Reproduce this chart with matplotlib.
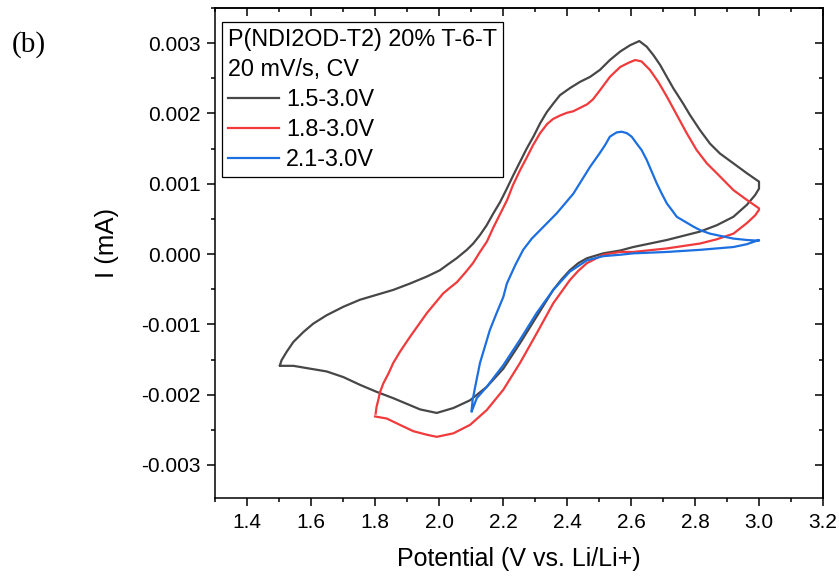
import numpy as np
import matplotlib
matplotlib.use('Agg')
import matplotlib.pyplot as plt
from matplotlib.ticker import MultipleLocator, FuncFormatter

plt.rcParams['font.family'] = 'Liberation Sans'
plt.rcParams['axes.unicode_minus'] = False

# CV loops, potential (V) and current (mA); each starts at the low vertex,
# runs up to 3.0 V and comes back
v_15 = [1.503, 1.545, 1.597, 1.649, 1.701, 1.753, 1.805, 1.857, 1.899, 1.941,
        1.993, 2.045, 2.097, 2.149, 2.201, 2.253, 2.305, 2.357, 2.383, 2.409,
        2.435, 2.462, 2.513, 2.566, 2.607, 2.712, 2.816, 2.868, 2.920, 2.962,
        2.988, 3.000,
        3.000, 2.962, 2.920, 2.878, 2.847, 2.816, 2.784, 2.763, 2.732, 2.712,
        2.691, 2.670, 2.649, 2.626, 2.597, 2.566, 2.534, 2.503, 2.472, 2.441,
        2.409, 2.378, 2.357, 2.337, 2.316, 2.295, 2.274, 2.253, 2.232, 2.212,
        2.191, 2.170, 2.149, 2.128, 2.107, 2.087, 2.055, 2.024, 2.003, 1.962,
        1.909, 1.857, 1.805, 1.753, 1.701, 1.649, 1.607, 1.576, 1.545, 1.524,
        1.508, 1.503]
i_15 = [-0.00159, -0.00159, -0.00163, -0.00167, -0.00175, -0.00186, -0.00196,
        -0.00205, -0.00213, -0.00221, -0.00226, -0.00219, -0.00208, -0.00189,
        -0.00163, -0.00127, -0.00089, -0.00051, -0.00036, -0.00023, -0.00013,
        -0.00006, 0.00001, 0.00005, 0.00010, 0.00020, 0.00032, 0.00041,
        0.00053, 0.00070, 0.00084, 0.00093,
        0.00103, 0.00115, 0.00129, 0.00143, 0.00157, 0.00176, 0.00198, 0.00214,
        0.00236, 0.00252, 0.00269, 0.00283, 0.00295, 0.00303, 0.00297, 0.00288,
        0.00276, 0.00262, 0.00252, 0.00245, 0.00236, 0.00226, 0.00214, 0.00202,
        0.00186, 0.00167, 0.00150, 0.00131, 0.00112, 0.00093, 0.00074, 0.00058,
        0.00041, 0.00027, 0.00015, 0.00006, -0.00006, -0.00016, -0.00023,
        -0.00032, -0.00042, -0.00051, -0.00058, -0.00065, -0.00075, -0.00087,
        -0.00099, -0.00111, -0.00125, -0.00139, -0.00151, -0.00158]

v_18 = [1.800, 1.837, 1.878, 1.920, 1.962, 1.993, 2.045, 2.097, 2.149, 2.201,
        2.253, 2.305, 2.357, 2.409, 2.435, 2.462, 2.513, 2.566, 2.607, 2.712,
        2.816, 2.868, 2.920, 2.962, 2.988, 3.000,
        3.000, 2.962, 2.920, 2.868, 2.837, 2.805, 2.774, 2.743, 2.712, 2.685,
        2.659, 2.633, 2.613, 2.592, 2.566, 2.534, 2.503, 2.481, 2.463, 2.441,
        2.419, 2.400, 2.378, 2.356, 2.338, 2.316, 2.294, 2.275, 2.253, 2.231,
        2.213, 2.191, 2.169, 2.150, 2.128, 2.106, 2.081, 2.056, 2.034, 2.013,
        1.962, 1.909, 1.878, 1.857, 1.842, 1.826, 1.816, 1.810, 1.805, 1.802]
i_18 = [-0.00231, -0.00234, -0.00243, -0.00252, -0.00257, -0.00260, -0.00255,
        -0.00243, -0.00222, -0.00193, -0.00155, -0.00113, -0.00070, -0.00037,
        -0.00024, -0.00013, -0.00001, 0.00003, 0.00003, 0.00008, 0.00015,
        0.00021, 0.00029, 0.00044, 0.00055, 0.00063,
        0.00065, 0.00077, 0.00091, 0.00115, 0.00129, 0.00148, 0.00172, 0.00198,
        0.00224, 0.00245, 0.00262, 0.00274, 0.00276, 0.00272, 0.00266, 0.00252,
        0.00233, 0.00220, 0.00213, 0.00208, 0.00203, 0.00201, 0.00197, 0.00192,
        0.00185, 0.00172, 0.00155, 0.00138, 0.00119, 0.00098, 0.00077, 0.00057,
        0.00037, 0.00018, 0.00003, -0.00013, -0.00027, -0.00040, -0.00048,
        -0.00056, -0.00084, -0.00118, -0.00139, -0.00155, -0.00170, -0.00184,
        -0.00196, -0.00208, -0.00217, -0.00227]

v_21 = [2.102, 2.118, 2.149, 2.201, 2.253, 2.305, 2.357, 2.409, 2.462, 2.513,
        2.566, 2.607, 2.712, 2.816, 2.920, 2.962, 3.000,
        3.000, 2.962, 2.920, 2.878, 2.847, 2.816, 2.795, 2.769, 2.743, 2.727,
        2.712, 2.696, 2.680, 2.665, 2.649, 2.633, 2.618, 2.602, 2.587, 2.571,
        2.555, 2.534, 2.519, 2.503, 2.472, 2.446, 2.420, 2.394, 2.368, 2.342,
        2.316, 2.290, 2.263, 2.238, 2.212, 2.201, 2.180, 2.159, 2.128, 2.113,
        2.105, 2.102]
i_21 = [-0.00224, -0.00205, -0.00189, -0.00158, -0.00122, -0.00084, -0.00051,
        -0.00025, -0.00009, -0.00003, -0.00001, 0.00001, 0.00003, 0.00006,
        0.00010, 0.00014, 0.00020,
        0.00019, 0.00020, 0.00022, 0.00026, 0.00029, 0.00034, 0.00039, 0.00046,
        0.00053, 0.00063, 0.00072, 0.00086, 0.00101, 0.00117, 0.00134, 0.00148,
        0.00157, 0.00167, 0.00172, 0.00174, 0.00173, 0.00167, 0.00155, 0.00144,
        0.00124, 0.00105, 0.00086, 0.00072, 0.00058, 0.00046, 0.00034, 0.00022,
        0.00006, -0.00016, -0.00042, -0.00061, -0.00084, -0.00108, -0.00155,
        -0.00189, -0.00208, -0.00222]

labels = ['1.5-3.0V', '1.8-3.0V', '2.1-3.0V']
colors = ['#474747', '#f03a3c', '#1c6fe0']

fig = plt.figure(figsize=(8.39, 5.81), dpi=100)
ax = fig.add_axes([215 / 839, 1 - 498 / 581, 608 / 839, 490 / 581])

for v, i, lab, c in zip([v_15, v_18, v_21], [i_15, i_18, i_21], labels, colors):
    ax.plot(v, i, color=c, lw=1.6, label=lab, solid_joinstyle='round')

ax.set_xlim(1.3, 3.2)
ax.set_ylim(-0.00347, 0.0035)
ax.xaxis.set_major_locator(MultipleLocator(0.2))
ax.xaxis.set_minor_locator(MultipleLocator(0.1))
ax.yaxis.set_major_locator(MultipleLocator(0.001))
ax.yaxis.set_minor_locator(MultipleLocator(0.0005))
ax.xaxis.set_major_formatter(FuncFormatter(lambda v, p: f'{round(v, 1) + 0:.1f}'))
ax.yaxis.set_major_formatter(FuncFormatter(lambda v, p: f'{round(v, 3) + 0:.3f}'))
ax.tick_params(which='major', direction='out', length=5.5, width=1.1, labelsize=15, pad=5)
ax.tick_params(which='minor', direction='out', length=3, width=1.1)
for s in ax.spines.values():
    s.set_linewidth(1.1)

# inward ticks on the top and right edges
top = ax.secondary_xaxis('top')
top.xaxis.set_major_locator(MultipleLocator(0.2))
top.xaxis.set_minor_locator(MultipleLocator(0.1))
top.tick_params(which='both', direction='in', labeltop=False, width=1.1)
top.tick_params(which='major', length=5.5)
top.tick_params(which='minor', length=3)
right = ax.secondary_yaxis('right')
right.yaxis.set_major_locator(MultipleLocator(0.001))
right.yaxis.set_minor_locator(MultipleLocator(0.0005))
right.tick_params(which='both', direction='in', labelright=False, width=1.1)
right.tick_params(which='major', length=5.5)
right.tick_params(which='minor', length=3)
top.spines['top'].set_linewidth(1.1)
right.spines['right'].set_linewidth(1.1)

ax.set_xlabel('Potential (V vs. Li/Li+)', fontsize=18)
ax.xaxis.set_label_coords(0.5, -0.100)
ax.set_ylabel('I (mA)', fontsize=18.5)
ax.yaxis.set_label_coords(-0.158, 0.52)

leg = ax.legend(title='P(NDI2OD-T2) 20% T-6-T\n20 mV/s, CV', loc='upper left',
                bbox_to_anchor=(0.0115, 0.971), borderaxespad=0,
                alignment='left', fontsize=16.8, title_fontsize=16.8,
                frameon=True, fancybox=False, edgecolor='black', framealpha=1,
                borderpad=0.25, handlelength=2.2, handletextpad=0.3,
                labelspacing=0.3)
leg.get_frame().set_linewidth(0.9)
leg.get_title().set_linespacing(1.38)

fig.text(12 / 839, 1 - 45 / 581, '(b)', family='Liberation Serif', fontsize=21,
         va='center', ha='left')

fig.savefig('out.png', dpi=100)
